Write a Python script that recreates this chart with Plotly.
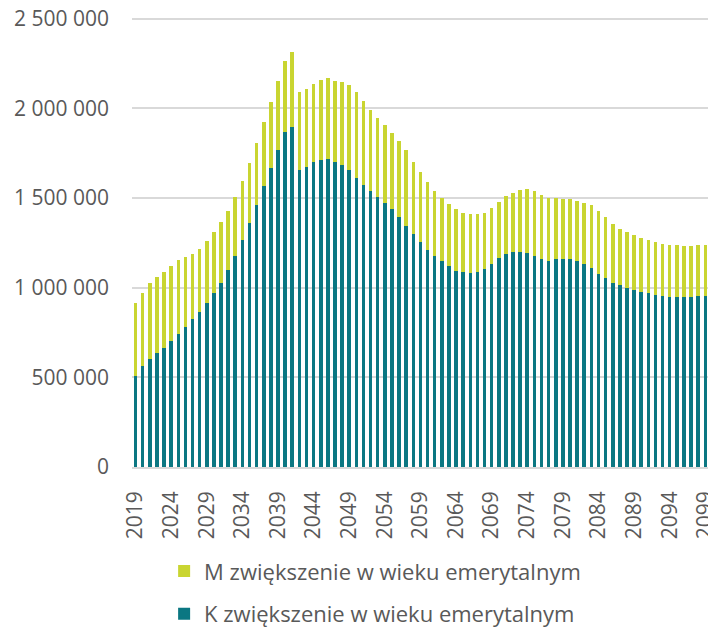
import plotly.graph_objects as go

years = list(range(2019, 2101))

total = [915, 971, 1025, 1061, 1089, 1122, 1152, 1173, 1189, 1217,
         1262, 1309, 1365, 1430, 1506, 1598, 1695, 1808, 1924, 2038,
         2152, 2263, 2315, 2090, 2109, 2135, 2161, 2170, 2153, 2146,
         2133, 2090, 2043, 1993, 1945, 1905, 1862, 1816, 1766, 1704,
         1644, 1590, 1542, 1503, 1469, 1437, 1415, 1409, 1409, 1417,
         1447, 1478, 1510, 1527, 1544, 1549, 1540, 1518, 1499, 1499,
         1493, 1495, 1482, 1473, 1464, 1428, 1393, 1353, 1329, 1313,
         1294, 1279, 1268, 1255, 1245, 1240, 1236, 1232, 1232, 1236,
         1240, 1245]

k_vals = [505, 561, 604, 638, 666, 701, 744, 783, 824, 867,
          912, 968, 1027, 1098, 1178, 1264, 1359, 1461, 1566, 1667,
          1766, 1866, 1898, 1659, 1674, 1700, 1711, 1717, 1702, 1685,
          1657, 1613, 1575, 1538, 1504, 1473, 1437, 1395, 1344, 1298,
          1253, 1210, 1175, 1147, 1120, 1096, 1085, 1081, 1085, 1102,
          1134, 1163, 1189, 1199, 1202, 1193, 1176, 1158, 1148, 1158,
          1160, 1160, 1148, 1131, 1111, 1079, 1053, 1027, 1014, 1001,
          988, 977, 968, 958, 952, 951, 947, 947, 947, 952,
          956, 958]

k_series = [v * 1000 for v in k_vals]
m_series = [(t - k) * 1000 for t, k in zip(total, k_vals)]

tick_years = list(range(2019, 2100, 5))
y_ticks = [0, 500000, 1000000, 1500000, 2000000, 2500000]

name_k = "K zwiększenie w wieku emerytalnym"
name_m = "M zwiększenie w wieku emerytalnym"

FONT = "Open Sans"
GREY = "#595959"

fig = go.Figure()
fig.add_trace(go.Bar(x=years, y=k_series, name=name_k, marker_color="#0B7782",
                     marker_line_width=0, legendgroup="k", legendrank=2))
fig.add_trace(go.Bar(x=years, y=m_series, name=name_m, marker_color="#C9D531",
                     marker_line_width=0, legendgroup="m", legendrank=1))

fig.update_layout(
    width=708, height=619,
    barmode="stack", bargap=0.5,
    plot_bgcolor="white", paper_bgcolor="white",
    margin=dict(l=124, r=0, t=9, b=160, autoexpand=False),
    separators=". ",
    font=dict(family=FONT, color=GREY, size=21),
    legend=dict(orientation="v", x=0.055, xanchor="left", y=-0.185, yanchor="top",
                traceorder="grouped", tracegroupgap=11,
                font=dict(size=22, color=GREY, family=FONT)),
    showlegend=True,
)
fig.update_xaxes(range=[2018.5, 2100.5], tickvals=tick_years,
                 ticktext=[str(y) for y in tick_years], tickangle=-90,
                 showgrid=False, showline=True, linecolor="#D9D9D9", linewidth=1.5,
                 ticks="", ticklabelstandoff=14, automargin=False,
                 ticklabeloverflow="allow",
                 tickfont=dict(size=21, color=GREY, family=FONT))
fig.update_yaxes(range=[0, 2510000], tickvals=y_ticks, tickformat=",d",
                 showgrid=True, gridcolor="#D9D9D9", gridwidth=1.5,
                 zeroline=False, showline=False, ticks="", ticklabelstandoff=22,
                 automargin=False, ticklabeloverflow="allow",
                 tickfont=dict(size=21, color=GREY, family=FONT))

fig.write_html("out.html")
